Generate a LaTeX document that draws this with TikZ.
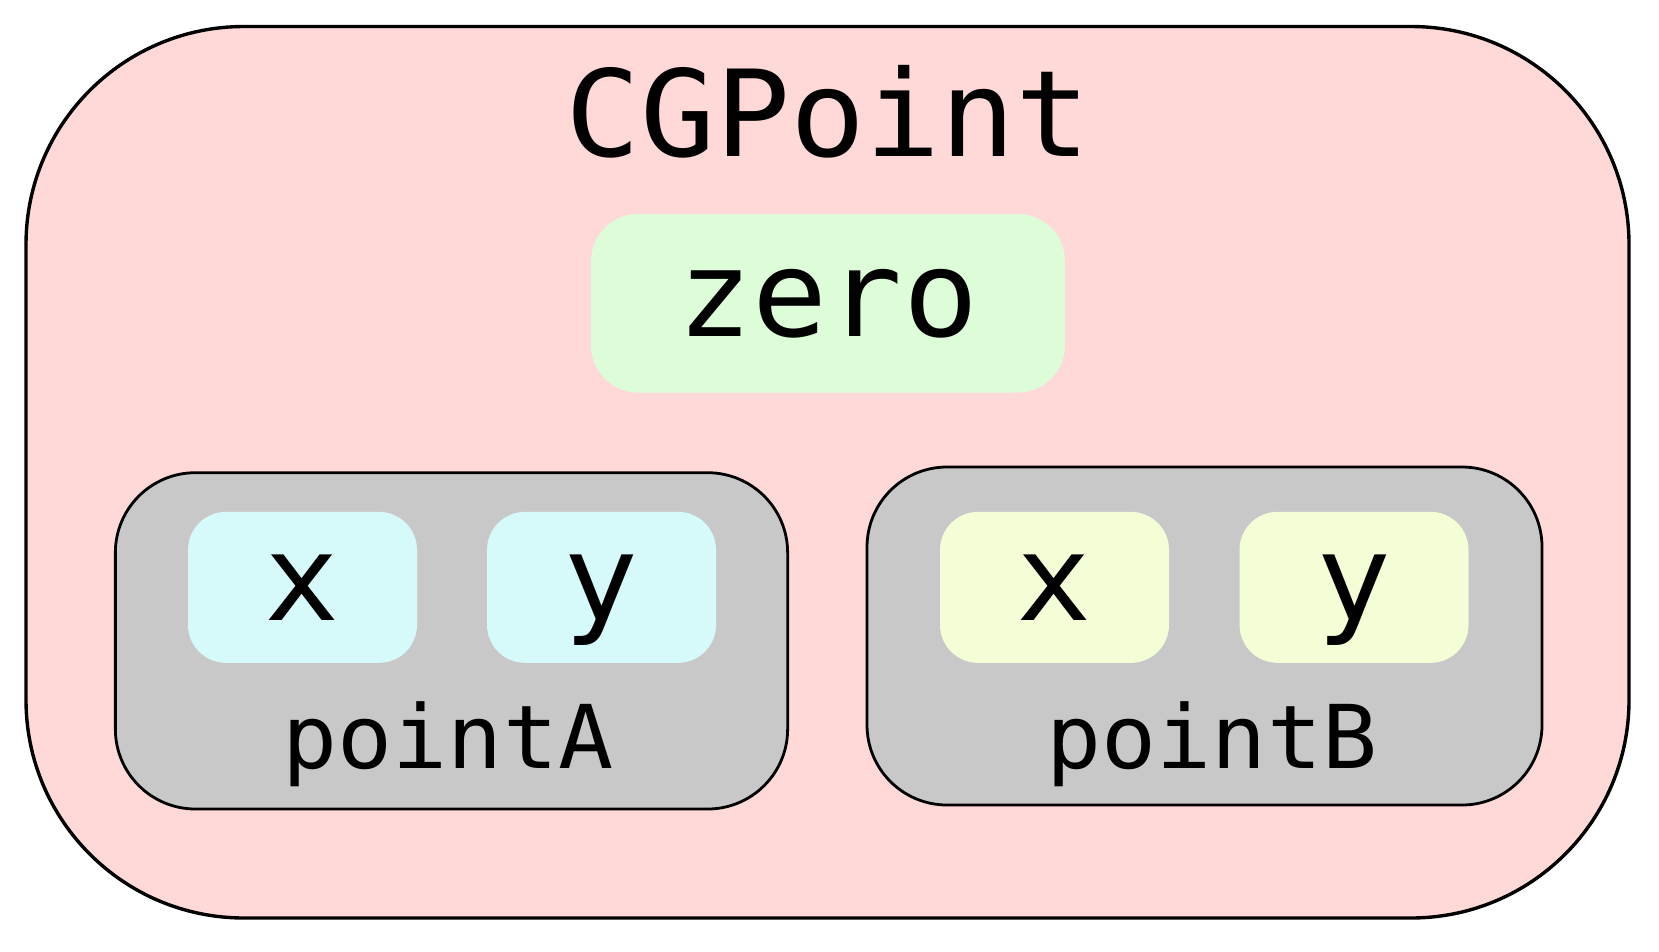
\documentclass[tikz,border=0pt]{standalone}
\usepackage{fontspec}
\setmonofont[FakeStretch=1.04]{DejaVu Sans Mono}
\definecolor{outerpink}{RGB}{255,216,216}
\definecolor{zerogreen}{RGB}{220,253,216}
\definecolor{cellcyan}{RGB}{214,250,250}
\definecolor{cellyellow}{RGB}{243,253,214}
\definecolor{boxgray}{RGB}{200,200,200}
\tikzset{
  outerbox/.style={draw=black, line width=3.4pt, fill=outerpink, rounded corners=218pt, inner sep=0pt},
  grpbox/.style={draw=black, line width=2.8pt, fill=boxgray, rounded corners=80pt, inner sep=0pt},
  cellbox/.style={draw=none, rounded corners=38pt, inner sep=0pt, minimum width=229pt, minimum height=151pt},
  bigtxt/.style={anchor=base, inner sep=0pt, font=\ttfamily\fontsize{120}{144}\selectfont},
  lbltxt/.style={anchor=base, inner sep=0pt, font=\ttfamily\fontsize{88}{106}\selectfont}
}
\begin{document}
\begin{tikzpicture}[x=1pt,y=-1pt]
\useasboundingbox (0,0) rectangle (1659,951);
\node[outerbox, minimum width=1603pt, minimum height=891.5pt] (outer) at (827.5,472.25) {};
\node[bigtxt] (title) at (828,156) {CGPoint};
\node[draw=none, fill=zerogreen, rounded corners=47pt, inner sep=0pt, minimum width=474pt, minimum height=178.5pt] (zerobox) at (828,303.25) {};
\node[bigtxt] (zero) at (828,336) {zero};
\node[grpbox, minimum width=672.3pt, minimum height=336.3pt] (pA) at (451.5,640.85) {};
\node[grpbox, minimum width=675pt, minimum height=338pt] (pB) at (1204.5,636) {};
\node[cellbox, fill=cellcyan] (ax) at (302.5,587.35) {};
\node[cellbox, fill=cellcyan] (ay) at (601.5,587.35) {};
\node[cellbox, fill=cellyellow] (bx) at (1054.5,587.35) {};
\node[cellbox, fill=cellyellow] (by) at (1354,587.35) {};
\node[bigtxt] (axt) at (302.5,620) {x};
\node[bigtxt] (ayt) at (601.5,620) {y};
\node[bigtxt] (bxt) at (1054.5,620) {x};
\node[bigtxt] (byt) at (1354,620) {y};
\node[lbltxt] (pAt) at (448,768) {pointA};
\node[lbltxt] (pBt) at (1212,768) {pointB};
\end{tikzpicture}
\end{document}
